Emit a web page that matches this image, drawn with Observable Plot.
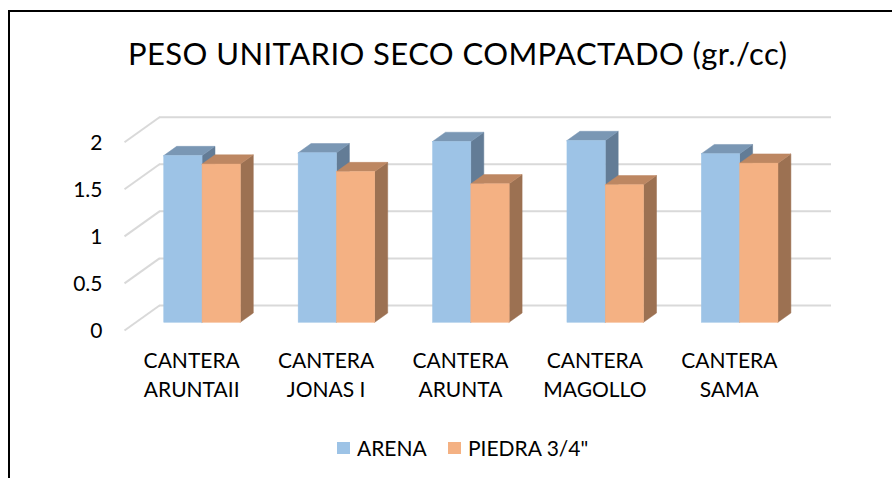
<!DOCTYPE html>
<html>
<head>
<meta charset="utf-8">
<script src="https://cdn.jsdelivr.net/npm/d3@7"></script>
<script src="https://cdn.jsdelivr.net/npm/@observablehq/plot@0.6"></script>
<style>
  html, body { margin: 0; padding: 0; background: #fff; }
  #page { position: relative; width: 892px; height: 478px; overflow: hidden; font-family: Lato, "Open Sans", sans-serif; color: #000; }
  #frame { position: absolute; left: 8px; top: 10px; width: 900px; height: 500px; border-left: 2px solid #000; border-top: 2px solid #000; box-sizing: border-box; }
  #title { position: absolute; left: 0; top: 0; width: 892px; height: 100px; }
  #title span { position: absolute; left: 128px; top: 37.5px; font-size: 31px; white-space: nowrap; line-height: 1; }
  #chart { position: absolute; left: 0; top: 100px; }
  #legend { position: absolute; left: 0; top: 420px; width: 892px; height: 50px; }
  .sw { position: absolute; width: 13px; height: 12px; top: 22px; }
  .lt { position: absolute; top: 17px; font-size: 21px; line-height: 1; white-space: nowrap; }
</style>
</head>
<body>
<div id="page">
  <div id="frame"></div>
  <div id="title"><span id="titleText"></span></div>
  <div id="chart"></div>
  <div id="legend"></div>
</div>
<script>
// ---- data ----
const title = "PESO UNITARIO SECO COMPACTADO (gr./cc)";
const categories = ["CANTERA ARUNTAII", "CANTERA JONAS I", "CANTERA ARUNTA", "CANTERA MAGOLLO", "CANTERA SAMA"];
const seriesNames = ["ARENA", "PIEDRA 3/4\""];
const arena = [1.77, 1.80, 1.92, 1.93, 1.79];
const piedra = [1.68, 1.60, 1.47, 1.46, 1.69];
const yTicks = [0, 0.5, 1, 1.5, 2];
const yTickLabels = ["0", "0.5", "1", "1.5", "2"];

// ---- styling / layout ----
const colors = {
  "ARENA": {front: "#9DC3E6", top: "#7A97B4", side: "#637C96"},
  "PIEDRA 3/4\"": {front: "#F4B183", top: "#BD8762", side: "#9C7152"}
};
const W = 892, H = 320;
const mL = 124, mR = 96, mT = 41.7, mB = 90;
const xDomain = [0, categories.length], yDomain = [0, 2];
const pxPerX = (W - mL - mR) / (xDomain[1] - xDomain[0]);
const pxPerY = (H - mT - mB) / (yDomain[1] - yDomain[0]);
// oblique depth of the floor/wall, in pixels, converted to data units
const depthX = 35 / pxPerX, depthY = 25 / pxPerY;
const f0 = 0.31, f1 = 0.68;           // bar depth range (fraction of total depth)
const barW = 38.3 / pxPerX;           // single bar width in x units

// title, fitted to the reference width
const tEl = document.getElementById("titleText");
tEl.textContent = title;
const targetW = 659;
const natural = tEl.getBoundingClientRect().width;
tEl.style.letterSpacing = ((targetW - natural) / (title.length - 1)) + "px";

// build bar table
const values = {"ARENA": arena, "PIEDRA 3/4\"": piedra};
const bars = [];
categories.forEach((c, i) => {
  seriesNames.forEach((s, j) => {
    const center = i + 0.5 + f0 * depthX;
    const xl = center + (j - 1) * barW;
    const xr = xl + barW;
    const base = f0 * depthY;
    const v = values[s][i];
    bars.push({id: s + i, series: s, cat: c, xl, xr, base, top: base + v});
  });
});
const dd_x = (f1 - f0) * depthX, dd_y = (f1 - f0) * depthY;
const sidePts = s => bars.filter(b => b.series === s).flatMap(b => [
  {id: b.id, x: b.xr, y1: b.base, y2: b.top},
  {id: b.id, x: b.xr + dd_x, y1: b.base + dd_y, y2: b.top + dd_y}
]);
const topPts = s => bars.filter(b => b.series === s).flatMap(b => [
  {id: b.id, y: b.top, x1: b.xl, x2: b.xr},
  {id: b.id, y: b.top + dd_y, x1: b.xl + dd_x, x2: b.xr + dd_x}
]);

const barMarks = seriesNames.flatMap(s => [
  Plot.areaY(sidePts(s), {x: "x", y1: "y1", y2: "y2", z: "id", fill: colors[s].side, stroke: colors[s].side, strokeWidth: 0.5}),
  Plot.areaX(topPts(s), {y: "y", x1: "x1", x2: "x2", z: "id", fill: colors[s].top, stroke: colors[s].top, strokeWidth: 0.5}),
  Plot.rect(bars.filter(b => b.series === s), {x1: "xl", x2: "xr", y1: "base", y2: "top", fill: colors[s].front, stroke: colors[s].front, strokeWidth: 0.5})
]);

const catIdx = categories.map((c, i) => ({c, i}));
const line1 = d => d.c.slice(0, d.c.indexOf(" "));
const line2 = d => d.c.slice(d.c.indexOf(" ") + 1);

const chart = Plot.plot({
  width: W, height: H,
  marginLeft: mL, marginRight: mR, marginTop: mT, marginBottom: mB,
  x: {domain: xDomain, axis: null},
  y: {domain: yDomain, axis: null},
  style: {fontFamily: "Lato, 'Open Sans', sans-serif", fontSize: "21px", color: "#000", background: "transparent", overflow: "visible"},
  marks: [
    // back wall gridlines
    Plot.ruleY(yTicks, {y: d => d + depthY, x1: depthX, x2: xDomain[1] + depthX, stroke: "#D9D9D9", strokeWidth: 2, strokeOpacity: 1}),
    // side wall diagonals
    Plot.link(yTicks, {x1: 0, y1: d => d, x2: depthX, y2: d => d + depthY, stroke: "#D9D9D9", strokeWidth: 2, strokeOpacity: 1}),
    ...barMarks,
    // y tick labels
    Plot.text(yTicks, {x: 0, y: d => d, text: (d, i) => yTickLabels[i], textAnchor: "end", dx: -22, dy: 1, fill: "#000"}),
    // category labels (two lines)
    Plot.text(catIdx, {x: d => d.i + 0.5, y: 0, text: line1, dy: 31, fill: "#000"}),
    Plot.text(catIdx, {x: d => d.i + 0.5, y: 0, text: line2, dy: 60, fill: "#000"})
  ]
});
document.getElementById("chart").appendChild(chart);

// legend
const legend = document.getElementById("legend");
const legendPos = [{sw: 337, tx: 357}, {sw: 448, tx: 468}];
seriesNames.forEach((s, j) => {
  const sw = document.createElement("div");
  sw.className = "sw"; sw.style.left = legendPos[j].sw + "px"; sw.style.background = colors[s].front;
  const t = document.createElement("div");
  t.className = "lt"; t.style.left = legendPos[j].tx + "px"; t.textContent = s;
  legend.appendChild(sw); legend.appendChild(t);
});
</script>
</body>
</html>
